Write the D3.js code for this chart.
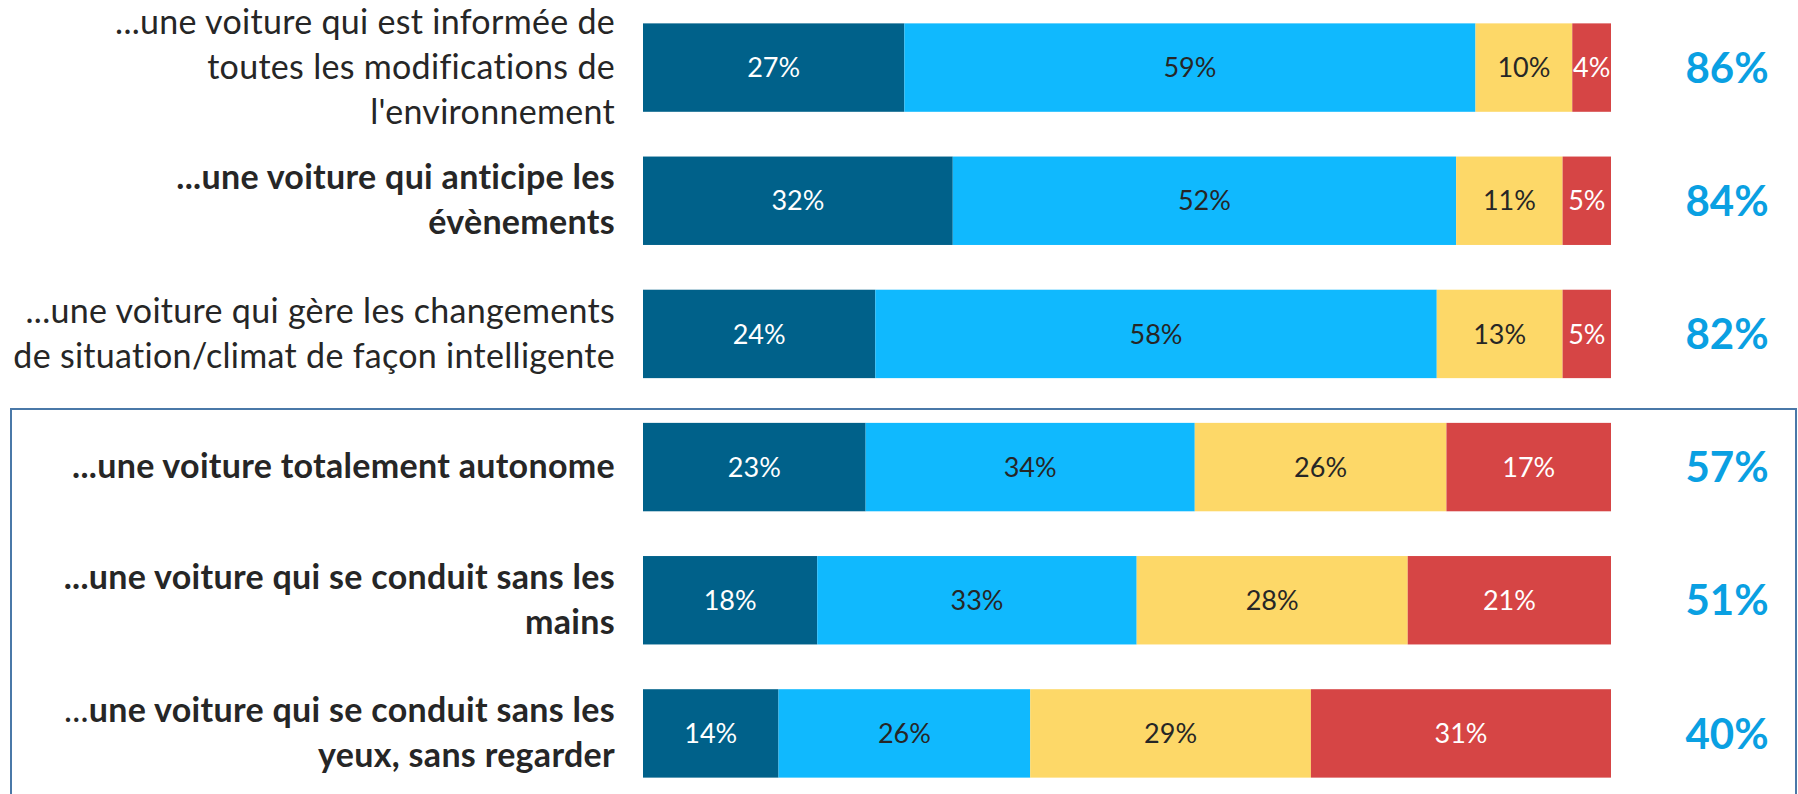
<!DOCTYPE html>
<html>
<head>
<meta charset="utf-8">
<script src="https://cdn.jsdelivr.net/npm/d3@7"></script>
<style>
  body { margin: 0; background: #fff; }
  svg { display: block; }
</style>
</head>
<body>
<svg id="chart" width="1798" height="794"></svg>
<script>
// each label line is a list of [text, bold] pieces
var labels = [
  [[["...une voiture qui est informée de", false]], [["toutes les modifications de", false]], [["l'environnement", false]]],
  [[["...une voiture qui anticipe les", true]], [["évènements", true]]],
  [[["...une voiture qui gère les changements", false]], [["de situation/climat de façon intelligente", false]]],
  [[["...une voiture totalement autonome", true]]],
  [[["...une voiture qui se conduit sans les", true]], [["mains", true]]],
  [[["...", false], ["une voiture qui se conduit sans les", true]], [["yeux, sans regarder", true]]]
];
var veryYes = [27, 32, 24, 23, 18, 14];
var ratherYes = [59, 52, 58, 34, 33, 26];
var ratherNo = [10, 11, 13, 26, 28, 29];
var veryNo = [4, 5, 5, 17, 21, 31];
var totals = [86, 84, 82, 57, 51, 40];

var colors = ["#00618a", "#10b9fe", "#fdd868", "#d64545"];
var textColors = ["#fff", "#262626", "#262626", "#fff"];

var svg = d3.select("#chart");
var fontFam = "Lato, 'Open Sans', sans-serif";

var x = d3.scaleLinear().domain([0, 100]).range([643, 1611]);
var y = d3.scaleBand().domain(d3.range(labels.length)).range([1, 800])
  .paddingInner(0.336).paddingOuter(0.168);

// frame around the autonomous-car rows
svg.append("rect")
  .attr("x", 11).attr("y", 409)
  .attr("width", 1785).attr("height", 420)
  .attr("fill", "none")
  .attr("stroke", "#4a78a8")
  .attr("stroke-width", 2);

var rows = labels.map(function(l, i) {
  var vals = [veryYes[i], ratherYes[i], ratherNo[i], veryNo[i]];
  var acc = 0;
  return vals.map(function(v, k) {
    var s = { row: i, k: k, v: v, x0: acc, x1: acc + v };
    acc += v;
    return s;
  });
});

var segs = svg.append("g").selectAll("g")
  .data(d3.merge(rows)).enter().append("g");

segs.append("rect")
  .attr("x", function(d) { return x(d.x0); })
  .attr("y", function(d) { return y(d.row); })
  .attr("width", function(d) { return x(d.x1) - x(d.x0); })
  .attr("height", y.bandwidth())
  .attr("fill", function(d) { return colors[d.k]; });

segs.append("text")
  .attr("x", function(d) { return (x(d.x0) + x(d.x1)) / 2; })
  .attr("y", function(d) { return y(d.row) + y.bandwidth() / 2; })
  .attr("dy", "0.36em")
  .attr("text-anchor", "middle")
  .style("font-family", fontFam)
  .style("font-size", "27px")
  .attr("fill", function(d) { return textColors[d.k]; })
  .text(function(d) { return d.v + "%"; });

// category labels, right aligned before the bars
var lineH = 45;
var lab = svg.append("g").selectAll("text")
  .data(labels).enter().append("text")
  .attr("text-anchor", "end")
  .style("font-family", fontFam)
  .style("font-size", "34px")
  .style("letter-spacing", "0.3px")
  .attr("fill", "#262626")
  .attr("transform", function(d, i) {
    var c = y(i) + y.bandwidth() / 2;
    return "translate(615," + (c - (d.length - 1) * lineH / 2) + ")";
  });

lab.each(function(lines) {
  var t = d3.select(this);
  lines.forEach(function(parts, j) {
    parts.forEach(function(p, m) {
      var ts = t.append("tspan")
        .style("font-weight", p[1] ? "bold" : "normal")
        .text(p[0]);
      if (m === 0) {
        ts.attr("x", 0).attr("y", j * lineH).attr("dy", "0.33em");
      }
    });
  });
});

// top-2 totals
svg.append("g").selectAll("text")
  .data(totals).enter().append("text")
  .attr("x", 1727)
  .attr("y", function(d, i) { return y(i) + y.bandwidth() / 2; })
  .attr("dy", "0.36em")
  .attr("text-anchor", "middle")
  .style("font-family", fontFam)
  .style("font-size", "42px")
  .style("font-weight", "bold")
  .attr("fill", "#0aa0e2")
  .text(function(d) { return d + "%"; });
</script>
</body>
</html>
